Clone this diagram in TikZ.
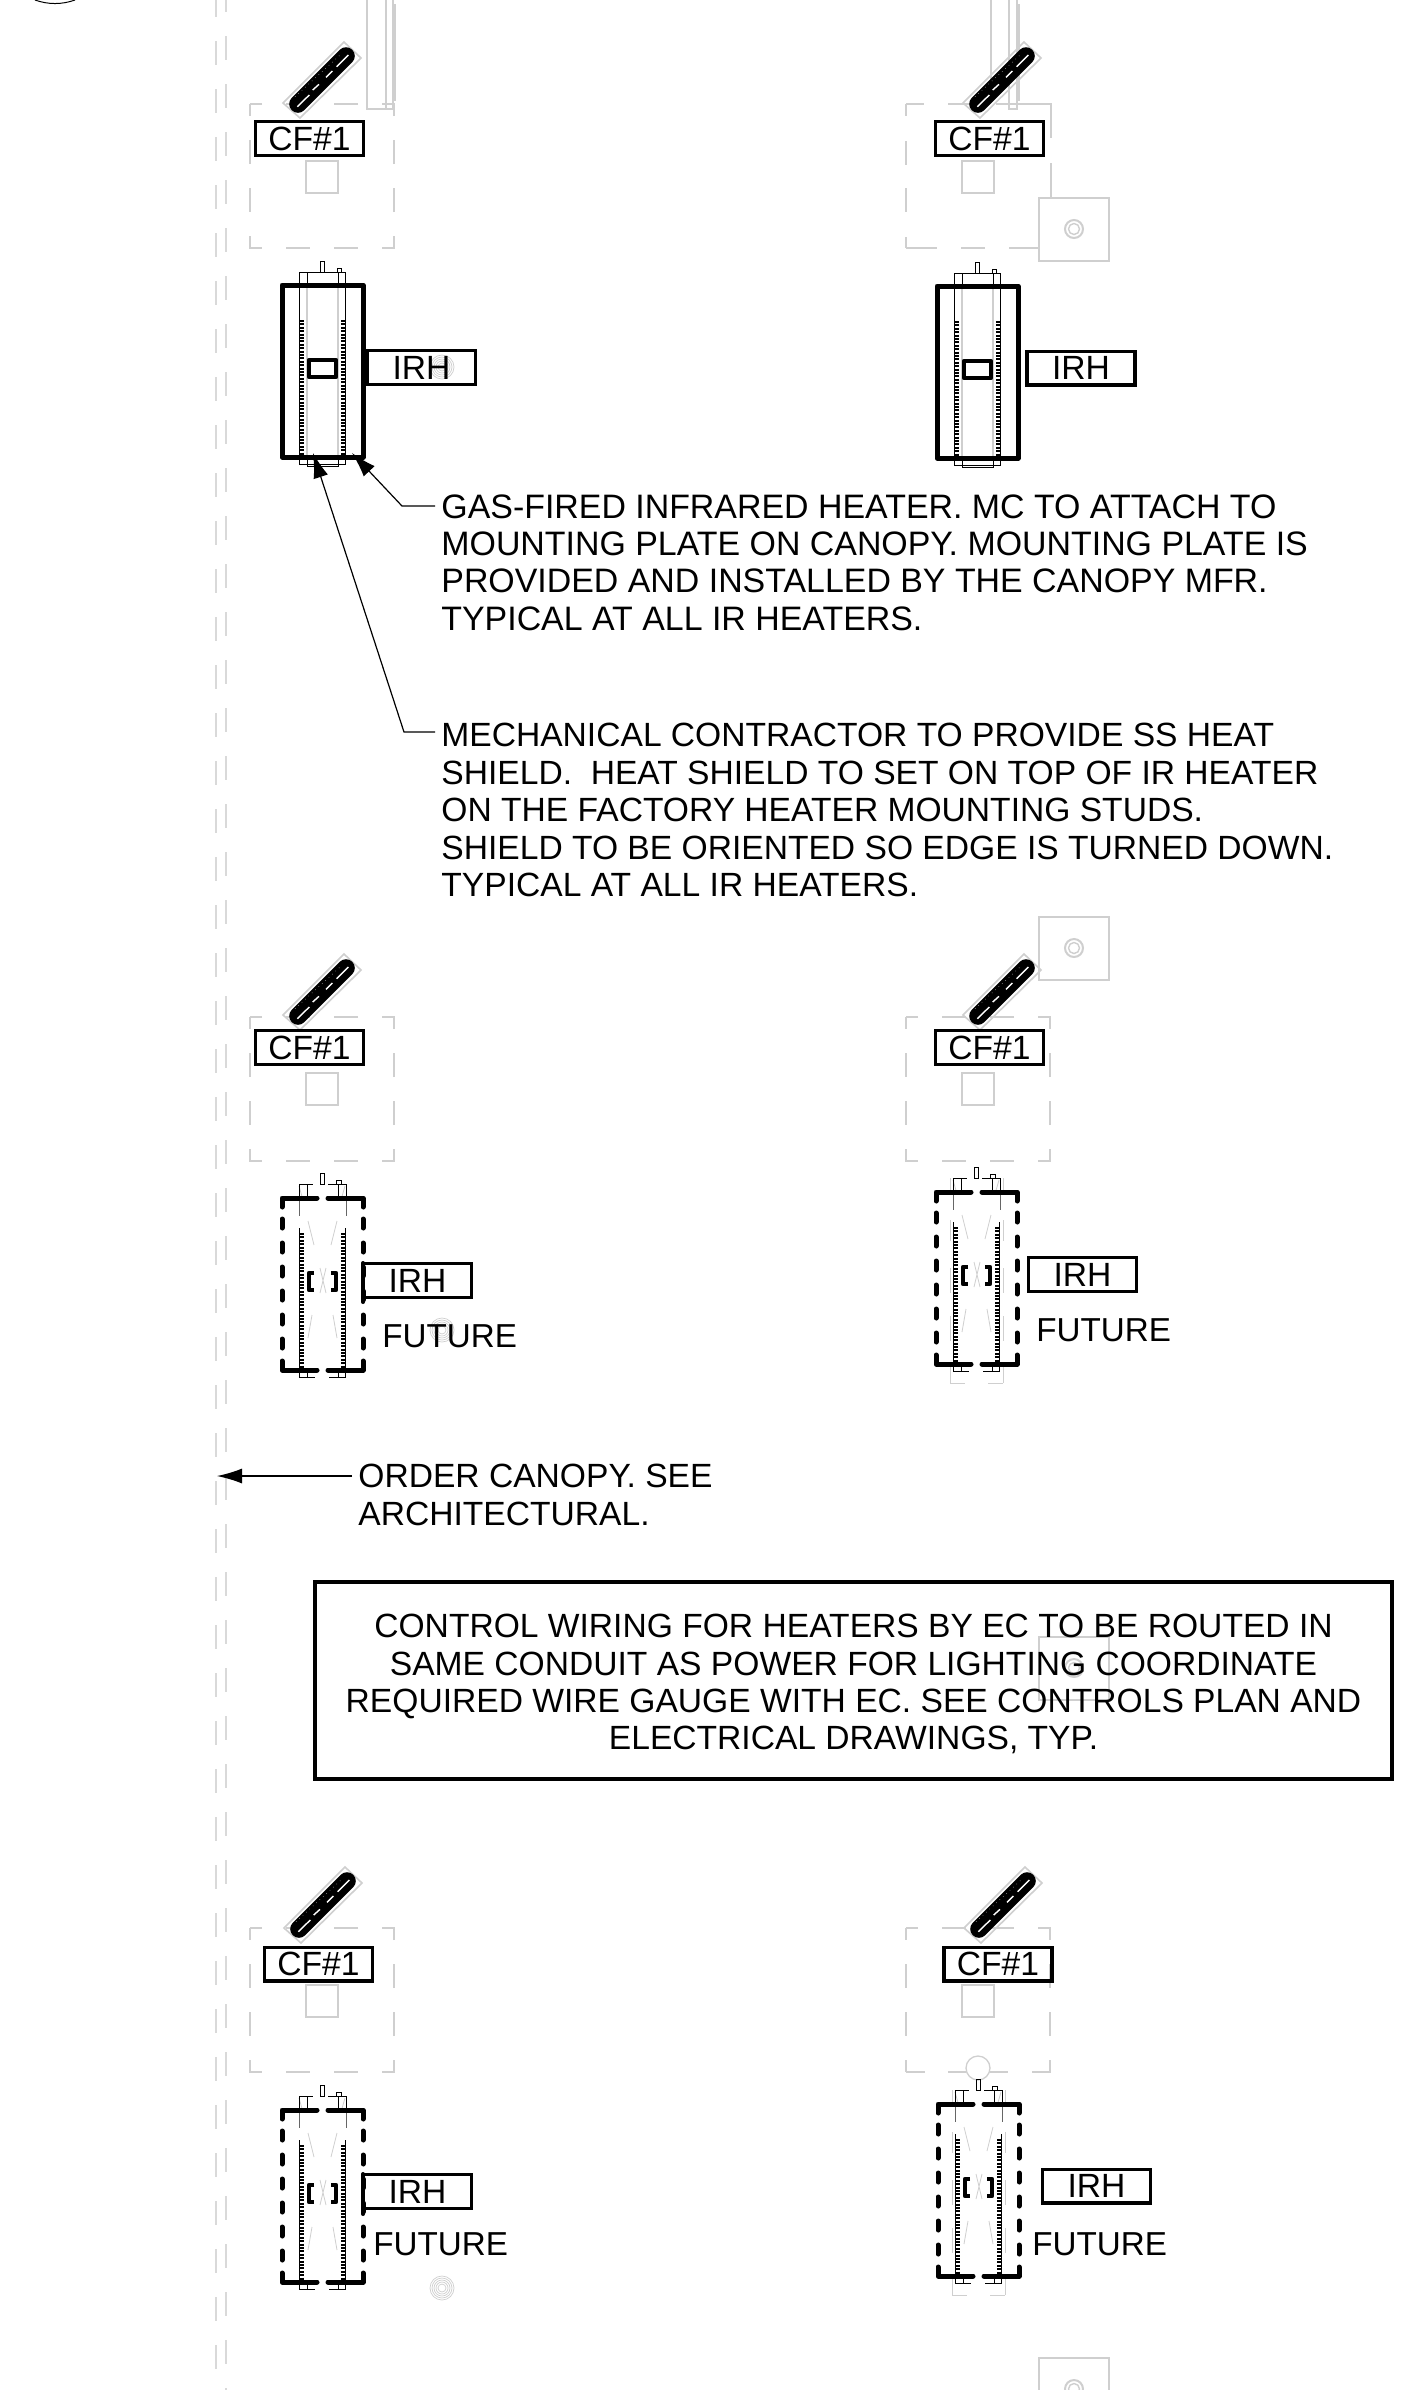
\documentclass[tikz,border=0pt]{standalone}
\usepackage{fontspec}
\setmainfont{Liberation Sans}
\usetikzlibrary{arrows.meta}
\definecolor{gr}{HTML}{CFCFCF}
\definecolor{grl}{HTML}{D9D9D9}
\newcommand\grayrect[2]{\draw[grayline, dash pattern=on 12pt off 12pt, dash phase=6pt] (#1,#2) rectangle ++(144,144);}
\tikzset{
  grayline/.style={draw=gr,line width=0.65pt},
  grayheavy/.style={draw=gr,line width=1pt},
  gridline/.style={draw=grl,line width=0.7pt,dash pattern=on 12pt off 12pt},
  blk/.style={draw=black,line width=0.5pt},
  heavy/.style={draw=black,line width=2.5pt,line join=round,line cap=round},
  tagbox/.style={draw=black,line width=1.7pt,line join=miter,minimum width=54pt,minimum height=16.8pt,inner sep=0pt,font=\lab},
  lab/.style={inner sep=0pt,font=\lab},
  para/.style={inner sep=0pt,font=\lab,align=left,anchor=north west},
  leader/.style={draw=black,line width=0.6pt,-{Latex[length=12.5pt,width=7.5pt]}},
  pics/diagpiece/.style={code={
    \draw[grayline,line width=0.8pt] (0,0)--(61,-61)--(78,-45)--(17,15)--cycle;
    \draw[black,line width=8.8pt,line cap=round] (15,1)--(63,-47);
    \draw[white,line width=0.7pt] (14.3,3.7)--(26.3,-8) (29.7,-13)--(36,-18.7) (43,-25.7)--(49.3,-32) (53.7,-36.3)--(65.3,-48);
    \draw[gray!50,line width=0.3pt,dotted] (12,-6.3)--(57,-48);
  }},
  pics/comb/.style={code={
    \draw[black,line width=2.4pt,dash pattern=on 1pt off 0.7pt] (19.5,35)--(19.5,172);
    \draw[black,line width=2.4pt,dash pattern=on 1pt off 0.7pt] (61,35)--(61,172);
  }},
  pics/solidheater/.style={code={
    \draw[grayheavy] (25,0)--(25,172) (56,0)--(56,172);
    \draw[blk] (17,-13) rectangle (63,179);
    \draw[blk] (25,-13)--(25,0) (56,-13)--(56,0) (25,172)--(25,181)--(56,181)--(56,172);
    \draw[blk] (38,-24) rectangle (42,-13) (55,-17) rectangle (59,-13);
    \pic {comb};
    \draw[heavy] (0,0) rectangle (81,172);
    \draw[heavy,line width=2.4pt] (27,75) rectangle (54,92);
  }},
  pics/dashedheater/.style={code={
    \draw[draw=gr,line width=0.4pt] (26,23)--(32,47) (55,23)--(49,47) (30,117)--(26,140) (51,117)--(55,140)
       (38,70)--(44,95) (44,70)--(38,95) (17,-12)--(21,2) (63,-12)--(59,2);
    \draw[blk] (17,-14)--(31,-14) (46,-14)--(64,-14) (25,-14)--(25,0) (56,-14)--(56,0)
       (17,-14)--(17,0) (64,-14)--(64,0);
    \draw[blk,draw=black!60] (17,0)--(17,18) (64,0)--(64,18);
    \draw[blk] (17,30)--(17,172) (63,30)--(63,172);
    \draw[blk] (38,-25) rectangle (42,-14) (54,-18) rectangle (59,-14);
    \draw[blk] (17,172)--(17,179)--(33,179) (25,172)--(25,179) (56,172)--(56,179) (47,179)--(63,179)--(63,172);
    \pic {comb};
    \draw[heavy] (0,9)--(0,0)--(35,0) (46,0)--(81,0)--(81,9);
    \draw[heavy] (0,163)--(0,172)--(35,172) (46,172)--(81,172)--(81,163);
    \foreach \s in {21,45,69,93,117,141} {
      \draw[heavy] (0,\s)--(0,\s+9);
      \draw[heavy] (81,\s)--(81,\s+9);
    }
    \draw[heavy,line width=2.4pt,line cap=butt] (32,75)--(27,75)--(27,92)--(32,92) (49,75)--(54,75)--(54,92)--(49,92);
  }},
  pics/guide/.style={code={
    \foreach \a/\b in {-14/-1,28/49,76/101,124/149,170/191} {
      \draw[draw=gr,line width=0.45pt] (14,\a)--(14,\b) (67,\a)--(67,\b);
    }
    \draw[draw=gr,line width=0.45pt] (14,191)--(29,191) (52,191)--(67,191);
  }},
  pics/plate/.style={code={
    \draw[grayline] (0,0) rectangle (70,63);
    \draw[draw=gr,line width=1pt] (35,31) circle[radius=9];
    \draw[draw=gr,line width=0.7pt] (35,31) circle[radius=5.5];
  }},
  pics/rings/.style={code={
    \foreach \r in {4,6,8,10,12} { \draw[draw=gr,line width=0.35pt] (0,0) circle[radius=\r]; }
  }},
}
\newcommand\lab{\fontsize{16.8}{18.7}\selectfont}
\newcommand\labwide{\fontsize{16.95}{18.7}\selectfont}
\newcommand\labfut{\fontsize{16.6}{18.7}\selectfont}
\begin{document}
\begin{tikzpicture}[x=0.5pt,y=-0.5pt]
\path[use as bounding box,clip] (0,0) rectangle (1414,2390);
\fill[white] (0,0) rectangle (1414,2390);
% structural grid
\draw[gridline,dash phase=3.5pt] (216,0)--(216,2390);
\draw[gridline,dash phase=6pt] (226,0)--(226,2390);
% arc at the top left
\draw[blk,line width=0.5pt] (35,0) .. controls (48,4.7) and (62,4.7) .. (75,0);
% canopy outlines
\grayrect{250}{104}
\draw[grayline] (367,0)--(367,109)--(393,109)--(393,0) (386,0)--(386,109);
\draw[grayheavy,line width=.6pt] (395,4)--(395,101);
\draw[grayline] (906,104)--(924,104) (948,104)--(972,104) (996,104)--(1051,104)--(1051,138) (1051,163)--(1051,197)
  (906,248)--(937,248) (961,248)--(985,248) (1009,248)--(1039,248)
  (906,104)--(906,116) (906,141)--(906,165) (906,188)--(906,212) (906,237)--(906,248);
\draw[grayline] (991,0)--(991,85) (1009,0)--(1009,109)--(1017,109)--(1017,0);
\draw[grayheavy,line width=.6pt] (1019,4)--(1019,101);
\grayrect{250}{1017}
\grayrect{906}{1017}
\grayrect{250}{1928}
\draw[grayline,dash pattern=on 12pt off 12pt,dash phase=6pt] (906,1928)--(1050,1928)--(1050,2072) (906,1928)--(906,2072);
\draw[grayline] (906,2072)--(925,2072) (948,2072)--(966,2072) (990,2072)--(1008,2072) (1032,2072)--(1051,2072);
% squares
\foreach \x/\y in {306/161,962/161,306/1073,962/1073,306/1985,962/1985}
  \draw[grayheavy] (\x,\y) rectangle ++(32,32);
% plates and rings
\pic at (1039,198) {plate};
\pic at (1039,917) {plate};
\pic at (1039,1637) {plate};
\pic at (1039,2358) {plate};
\pic at (442,367) {rings};
\pic at (442,1330) {rings};
\pic at (442,2288) {rings};
\draw[grayline] (978,2068) circle[radius=12];
\pic at (936,1192) {guide};
\pic at (938,2104) {guide};
% heat shields
\pic at (283,103) {diagpiece};
\pic at (963,103) {diagpiece};
\pic at (283,1015) {diagpiece};
\pic at (963,1015) {diagpiece};
\pic at (284,1928) {diagpiece};
\pic at (964,1928) {diagpiece};
% heaters
\pic at (282,285) {solidheater};
\pic at (937,286) {solidheater};
\pic at (282,1198) {dashedheater};
\pic at (936,1192) {dashedheater};
\pic at (282,2110) {dashedheater};
\pic at (938,2104) {dashedheater};
\draw[heavy,line width=2pt] (363,1263)--(363,1302);
\draw[heavy,line width=2pt] (363,2174)--(363,2214);
% tags
\node[tagbox] (cfa) at (309.5,138.5) {CF\#1};
\node[tagbox] (cfb) at (989.5,138.5) {CF\#1};
\node[tagbox] (cfc) at (309.5,1047.5) {CF\#1};
\node[tagbox] (cfd) at (989.5,1047.5) {CF\#1};
\node[tagbox] (cfe) at (318.5,1964) {CF\#1};
\node[tagbox] (cff) at (998,1964) {CF\#1};
\node[tagbox] (ira) at (421.5,367.5) {IRH};
\node[tagbox] (irb) at (1081,368) {IRH};
\node[tagbox] (irc) at (417.5,1280.5) {IRH};
\node[tagbox] (ird) at (1082.5,1274.5) {IRH};
\node[tagbox] (ire) at (417.5,2191.5) {IRH};
\node[tagbox] (irf) at (1096.5,2186) {IRH};
\node[lab,font=\labfut,anchor=west] (fua) at (382,1336) {FUTURE};
\node[lab,font=\labfut,anchor=west] (fub) at (1036,1330) {FUTURE};
\node[lab,font=\labfut,anchor=west] (fuc) at (373,2244) {FUTURE};
\node[lab,font=\labfut,anchor=west] (fud) at (1032,2244) {FUTURE};
% notes
\node[para,font=\labwide] (noteone) at (441,494) {GAS-FIRED INFRARED HEATER. MC TO ATTACH TO\\MOUNTING PLATE ON CANOPY. MOUNTING PLATE IS\\PROVIDED AND INSTALLED BY THE CANOPY MFR.\\TYPICAL AT ALL IR HEATERS.};
\node[para] (notetwo) at (441,723) {MECHANICAL CONTRACTOR TO PROVIDE SS HEAT\\SHIELD.\ \ HEAT SHIELD TO SET ON TOP OF IR HEATER\\ON THE FACTORY HEATER MOUNTING STUDS.\\SHIELD TO BE ORIENTED SO EDGE IS TURNED DOWN.\\TYPICAL AT ALL IR HEATERS.};
\node[para] (notethree) at (358,1464) {ORDER CANOPY. SEE\\ARCHITECTURAL.};
\node[draw=black,line width=1.7pt,minimum width=538.5pt,minimum height=98.5pt,inner sep=0pt,font=\lab,align=center] (box) at (853.5,1680.5) {\rule{0pt}{15.5pt}CONTROL WIRING FOR HEATERS BY EC TO BE ROUTED IN\\SAME CONDUIT AS POWER FOR LIGHTING COORDINATE\\REQUIRED WIRE GAUGE WITH EC. SEE CONTROLS PLAN AND\\ELECTRICAL DRAWINGS, TYP.};
% leaders
\coordinate (sa) at (435,506);
\coordinate (ba) at (402,506);
\coordinate (ta) at (352,453);
\coordinate (sb) at (435,732);
\coordinate (bb) at (404,732);
\coordinate (tb) at (313,453);
\coordinate (sc) at (352,1476);
\coordinate (tc) at (217,1476);
\draw[leader] (sa)--(ba)--(ta);
\draw[leader] (sb)--(bb)--(tb);
\draw[leader] (sc)--(tc);
\end{tikzpicture}
\end{document}
